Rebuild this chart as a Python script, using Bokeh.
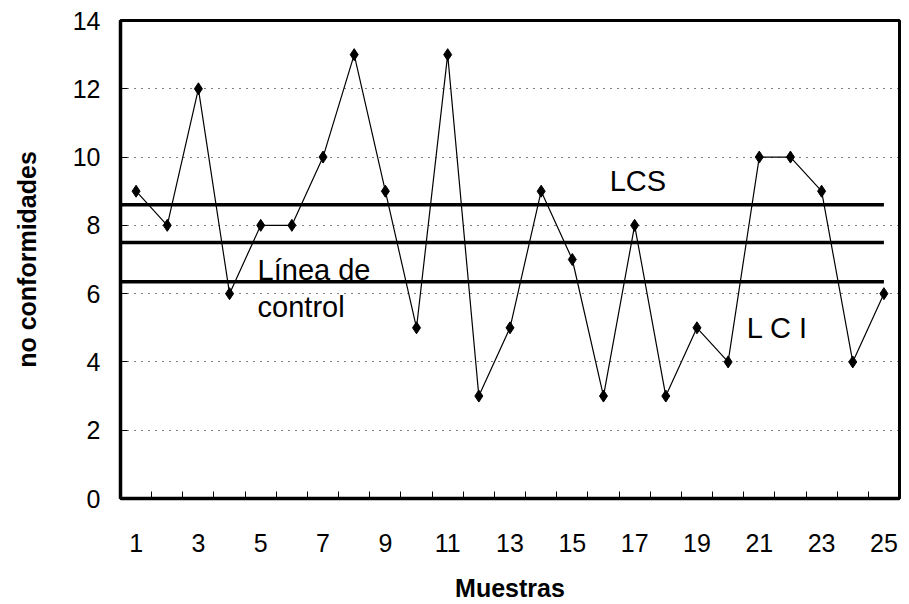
from bokeh.plotting import figure
from bokeh.models import FixedTicker, Range1d, Label
from bokeh.embed import file_html
from bokeh.resources import INLINE

muestras = list(range(1, 26))
no_conformidades = [9, 8, 12, 6, 8, 8, 10, 13, 9, 5, 13, 3, 5, 9, 7, 3, 8, 3, 5, 4, 10, 10, 9, 4, 6]
lcs = 8.6
linea_control = 7.5
lci = 6.35
x_tick_labels = [1, 3, 5, 7, 9, 11, 13, 15, 17, 19, 21, 23, 25]
y_ticks = [0, 2, 4, 6, 8, 10, 12, 14]

FONT = "Liberation Sans"

p = figure(width=901, height=604, output_backend="svg", toolbar_location=None,
           x_range=Range1d(0.5, 25.5), y_range=Range1d(0, 14),
           min_border_left=120, min_border_right=2, min_border_top=20, min_border_bottom=106)
p.background_fill_color = "white"
p.border_fill_color = "white"
p.outline_line_color = "black"
p.outline_line_width = 3

# grid
p.xgrid.visible = False
p.ygrid.ticker = FixedTicker(ticks=[2, 4, 6, 8, 10, 12])
p.ygrid.grid_line_color = "black"
p.ygrid.grid_line_dash = "1 6"
p.ygrid.grid_line_width = 1.2

# x axis
xa = p.xaxis[0]
xa.ticker = FixedTicker(ticks=x_tick_labels, minor_ticks=[m + 0.5 for m in muestras[:-1]])
xa.major_tick_in = 0
xa.major_tick_out = 0
xa.minor_tick_in = 7
xa.minor_tick_out = 0
xa.minor_tick_line_color = "black"
xa.axis_line_width = 3.5
xa.axis_line_color = "black"
xa.major_label_text_font = FONT
xa.major_label_text_font_size = "25px"
xa.major_label_text_color = "black"
xa.major_label_standoff = 35
xa.axis_label = "Muestras"
xa.axis_label_text_font = FONT
xa.axis_label_text_font_style = "bold"
xa.axis_label_text_font_size = "25px"
xa.axis_label_text_color = "black"
xa.axis_label_standoff = 19

# y axis
ya = p.yaxis[0]
ya.ticker = FixedTicker(ticks=y_ticks)
ya.major_tick_in = 7
ya.major_tick_out = 0
ya.minor_tick_in = 0
ya.minor_tick_out = 0
ya.axis_line_width = 3.5
ya.axis_line_color = "black"
ya.major_label_text_font = FONT
ya.major_label_text_font_size = "25px"
ya.major_label_text_color = "black"
ya.major_label_standoff = 20
ya.axis_label = "no conformidades"
ya.axis_label_text_font = FONT
ya.axis_label_text_font_style = "bold"
ya.axis_label_text_font_size = "25px"
ya.axis_label_text_color = "black"
ya.axis_label_standoff = 29

# control lines
for lvl in (lcs, linea_control, lci):
    p.line([0.5, 25], [lvl, lvl], line_color="black", line_width=3.5)

# data
p.line(muestras, no_conformidades, line_color="black", line_width=1.2)
p.scatter(muestras, no_conformidades, marker="diamond", size=12, fill_color="black", line_color="black")

# labels
for txt, x, y in [("LCS", 16.2, 9.3), ("Línea de", 4.9, 6.68), ("control", 4.9, 5.62), ("L C I", 20.6, 4.98)]:
    p.add_layout(Label(x=x, y=y, text=txt, text_font=FONT, text_font_size="29px",
                       text_color="black", text_baseline="middle", text_align="left"))

open("out.html", "w").write(file_html(p, INLINE))
